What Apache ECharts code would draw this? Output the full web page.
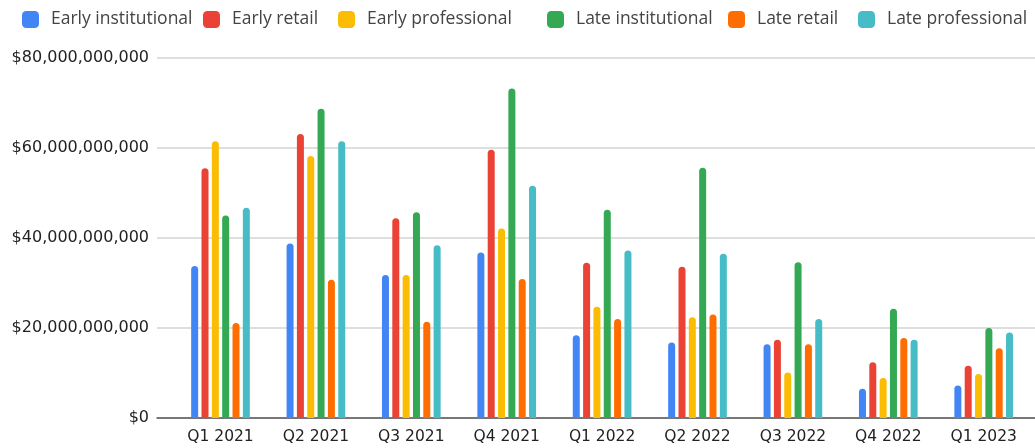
<!DOCTYPE html>
<html>
<head>
<meta charset="utf-8">
<script src="https://cdn.jsdelivr.net/npm/echarts@6/dist/echarts.min.js"></script>
<style>
html,body{margin:0;padding:0;background:#fff;}
#chart{width:1035px;height:448px;}
</style>
</head>
<body>
<div id="chart"></div>
<script>
// Values in billions of USD
const categories = ['Q1 2021','Q2 2021','Q3 2021','Q4 2021','Q1 2022','Q2 2022','Q3 2022','Q4 2022','Q1 2023'];
const seriesNames = ['Early institutional','Early retail','Early professional','Late institutional','Late retail','Late professional'];
const earlyInstitutional = [33.8, 38.8, 31.8, 36.8, 18.4, 16.8, 16.4, 6.5, 7.2];
const earlyRetail        = [55.5, 63.1, 44.4, 59.6, 34.5, 33.6, 17.4, 12.4, 11.6];
const earlyProfessional  = [61.5, 58.2, 31.8, 42.1, 24.7, 22.4, 10.1, 8.9, 9.8];
const lateInstitutional  = [45.0, 68.7, 45.7, 73.2, 46.3, 55.6, 34.6, 24.3, 20.0];
const lateRetail         = [21.1, 30.7, 21.4, 30.9, 22.0, 23.0, 16.4, 17.8, 15.5];
const lateProfessional   = [46.7, 61.5, 38.4, 51.6, 37.2, 36.5, 22.0, 17.4, 19.0];
const yTicks = [0, 20, 40, 60, 80];

// styling / layout
const colors = ['#4285F4','#EA4335','#FBBC04','#34A853','#FF6D01','#46BDC6'];
const legendLefts = [22, 203, 338, 547, 728, 858];
const allData = [earlyInstitutional, earlyRetail, earlyProfessional, lateInstitutional, lateRetail, lateProfessional];

const chart = echarts.init(document.getElementById('chart'), null, {renderer:'canvas'});
const AXF = '"DejaVu Sans", Verdana, sans-serif';
const LGF = '"Open Sans", sans-serif';

chart.setOption({
  animation:false,
  color:colors,
  textStyle:{fontFamily:AXF},
  legend: seriesNames.map((n,i)=>({
    data:[n], left:legendLefts[i], top:10.5, padding:0,
    icon:'roundRect', itemWidth:17, itemHeight:17,
    textStyle:{fontFamily:LGF, fontSize:17.5, color:'#444', padding:[0,0,0,7]}
  })),
  grid:[
    {left:157, right:-40, top:58, height:360},
    {left:172.8, width:858.6, top:58, height:360}
  ],
  xAxis:[
    {type:'category', gridIndex:0, data:categories,
     axisLine:{show:true, lineStyle:{color:'#555', width:1.5}},
     axisTick:{show:false}, axisLabel:{show:false}, splitLine:{show:false}},
    {type:'category', gridIndex:1, data:categories,
     axisLine:{show:false}, axisTick:{show:false},
     axisLabel:{margin:11, fontFamily:AXF, fontSize:15.5, color:'#222'}}
  ],
  yAxis:[
    {type:'value', gridIndex:0, min:yTicks[0], max:yTicks[yTicks.length-1], interval:yTicks[1]-yTicks[0],
     axisLine:{show:false}, axisTick:{show:false},
     axisLabel:{margin:8, fontFamily:AXF, fontSize:16, color:'#222', formatter:v=>'$'+(v*1e9).toLocaleString('en-US')},
     splitLine:{lineStyle:{color:'#d3d3d3', width:1.5}}},
    {type:'value', gridIndex:1, min:yTicks[0], max:yTicks[yTicks.length-1], interval:yTicks[1]-yTicks[0], show:false, splitLine:{show:false}}
  ],
  series: seriesNames.map((n,i)=>({
    name:n, type:'bar', xAxisIndex:1, yAxisIndex:1,
    data:allData[i], barWidth:7, barGap:'47.6%',
    itemStyle:{color:colors[i], borderRadius:[3.5,3.5,0,0]}
  }))
});
</script>
</body>
</html>
